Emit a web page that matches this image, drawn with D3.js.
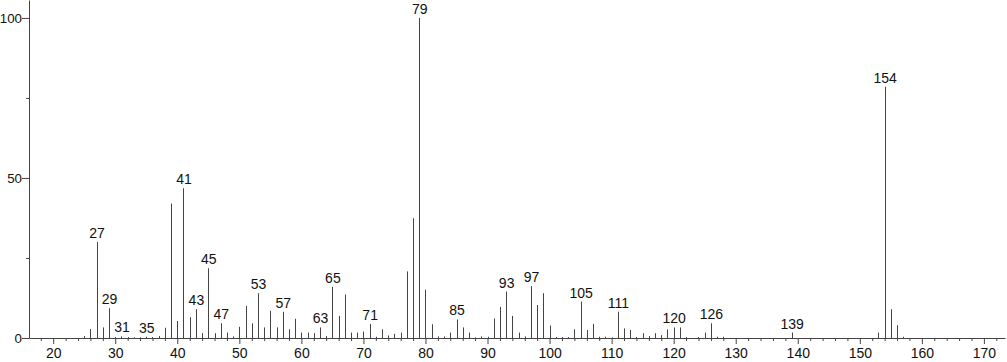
<!DOCTYPE html>
<html>
<head>
<meta charset="utf-8">
<script src="https://cdn.jsdelivr.net/npm/d3@7"></script>
<style>
  body { margin: 0; background: #fff; }
  svg { display: block; font-family: "Liberation Sans", Arial, sans-serif; }
</style>
</head>
<body>
<svg class="spectrum" width="1007" height="362"></svg>
<script>
// m/z values and relative intensities
const mz = [25, 26, 27, 28, 29, 30, 31, 32, 33, 34, 35, 36, 37, 38, 39, 40, 41, 42, 43, 44,
  45, 46, 47, 48, 49, 50, 51, 52, 53, 54, 55, 56, 57, 58, 59, 60, 61, 62, 63, 64,
  65, 66, 67, 68, 69, 70, 71, 72, 73, 74, 75, 76, 77, 78, 79, 80, 81, 82, 83, 84,
  85, 86, 87, 88, 89, 90, 91, 92, 93, 94, 95, 96, 97, 98, 99, 100, 101, 102, 103, 104,
  105, 106, 107, 108, 109, 110, 111, 112, 113, 114, 115, 116, 117, 118, 119, 120, 121, 122, 124, 125,
  126, 127, 128, 139, 153, 154, 155, 156, 157];
const intensity = [0.6, 2.8, 30, 3.3, 9.3, 0.3, 0.5, 0.3, 0.2, 0.2, 0.4, 0.3, 0.6, 3.2, 42, 5.3, 46.8, 6.5, 9.0, 1.5,
  21.8, 1.5, 4.6, 1.7, 0.5, 3.5, 10, 4.6, 14, 3.3, 8.5, 3.3, 8.2, 2.7, 6.0, 1.7, 1.7, 1.5, 3.3, 0.6,
  16, 6.9, 13.6, 1.7, 1.7, 2.0, 4.4, 0.4, 2.7, 0.8, 1.3, 1.7, 20.8, 37.4, 100, 15.1, 4.3, 0.5, 0.5, 1.7,
  5.8, 3.3, 1.7, 0.2, 0.5, 0.4, 6.1, 9.7, 14.5, 6.9, 1.7, 0.5, 16.2, 10.3, 14, 3.9, 0.3, 0.3, 0.3, 2.7,
  11.4, 2.5, 4.4, 0.4, 0.4, 0.2, 8.2, 3.0, 2.5, 0.3, 1.5, 0.6, 1.5, 0.9, 2.7, 3.3, 3.3, 0.3, 0.3, 1.7,
  4.6, 0.4, 0.4, 1.7, 1.7, 78.5, 9, 4, 0.4];

// peaks that carry a label
const labelled = [27, 29, 31, 35, 41, 43, 45, 47, 53, 57, 63, 65, 71, 79, 85, 93, 97, 105, 111, 120, 126, 139, 154];

const xMajor = [20, 30, 40, 50, 60, 70, 80, 90, 100, 110, 120, 130, 140, 150, 160, 170];
const yMajor = [0, 50, 100];
const yMinor = [25, 75];

const peaks = mz.map((m, i) => ({ m: m, v: intensity[i] }));

const svg = d3.select(".spectrum");

// escalas
const x = d3.scaleLinear().domain([16.1, 173.4]).range([29, 1005]);
const y = d3.scaleLinear().domain([0, 105.6]).range([338, 0]);

const xMinor = d3.range(18, 174, 2).filter(d => d % 10 !== 0);

// eixo x: ticks menores
svg.append("g")
  .attr("transform", "translate(0,338)")
  .call(d3.axisBottom(x).tickValues(xMinor).tickSize(3).tickFormat(""))
  .call(g => g.select(".domain").remove());

// eixo x
svg.append("g")
  .attr("transform", "translate(0,338)")
  .call(d3.axisBottom(x).tickValues(xMajor).tickSize(6).tickSizeOuter(0).tickPadding(4))
  .call(g => g.selectAll("text").attr("font-size", 14).attr("fill", "#111"));

// eixo y: ticks menores
svg.append("g")
  .attr("transform", "translate(29,0)")
  .call(d3.axisLeft(y).tickValues(yMinor).tickSize(3).tickFormat(""))
  .call(g => g.select(".domain").remove());

// eixo y
svg.append("g")
  .attr("transform", "translate(29,0)")
  .call(d3.axisLeft(y).tickValues(yMajor).tickSize(7).tickSizeOuter(0).tickPadding(0))
  .call(g => g.selectAll("text").attr("font-size", 13.3).attr("fill", "#111"));

svg.selectAll(".domain, .tick line").attr("stroke", "#444");

// barras do espectro
svg.append("g")
  .selectAll("line")
  .data(peaks)
  .join("line")
  .attr("x1", d => Math.round(x(d.m)) + 0.5)
  .attr("x2", d => Math.round(x(d.m)) + 0.5)
  .attr("y1", y(0))
  .attr("y2", d => y(d.v))
  .attr("stroke", "#444")
  .attr("stroke-width", 1);

// rótulos dos picos
svg.append("g")
  .selectAll("text")
  .data(peaks.filter(d => labelled.includes(d.m)))
  .join("text")
  .attr("x", d => x(d.m) + 0.5)
  .attr("y", d => y(d.v) - 4)
  .attr("text-anchor", "middle")
  .attr("font-size", 14)
  .attr("fill", "#111")
  .text(d => d.m);
</script>
</body>
</html>
